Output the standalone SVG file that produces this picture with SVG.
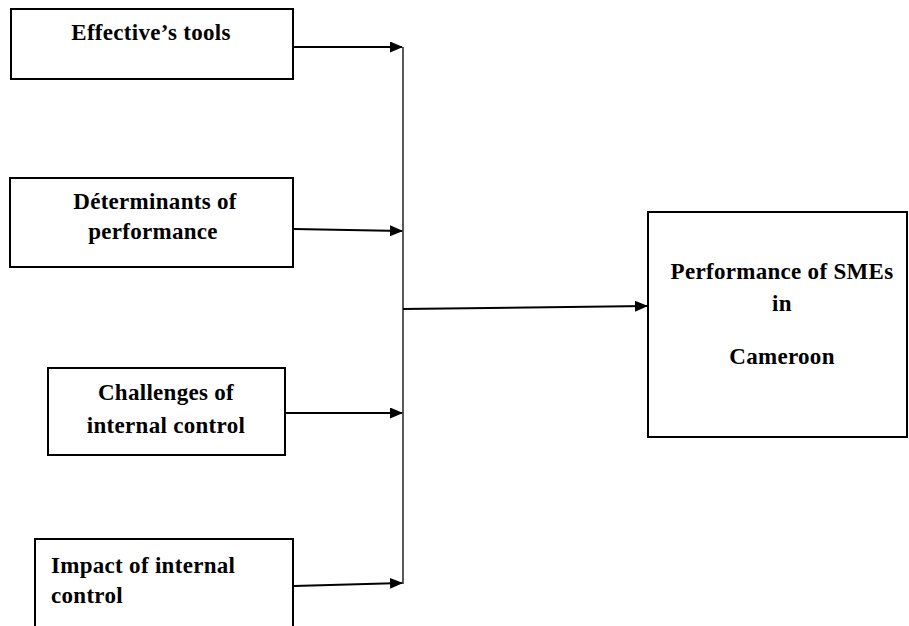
<svg xmlns="http://www.w3.org/2000/svg" width="909" height="626" viewBox="0 0 909 626">
<style>
.box{fill:#fff;stroke:#000;stroke-width:2}
.t{font-family:"Liberation Serif","Times New Roman",serif;font-weight:bold;font-size:23px;letter-spacing:0.3px;fill:#000}
.c{text-anchor:middle}
.ln{fill:none;stroke:#000;stroke-width:2}
.v{fill:none;stroke:#000;stroke-width:1.3}
</style>
<defs>
<marker id="ah" markerWidth="13" markerHeight="11" refX="12" refY="5.5" orient="auto" markerUnits="userSpaceOnUse" viewBox="0 0 13 11">
<path d="M0,0 L13,5.5 L0,11 z" fill="#000"/>
</marker>
</defs>
<rect width="909" height="626" fill="#fff"/>
<g id="n1">
<rect class="box" x="11" y="9" width="282" height="70"/>
<text class="t c" x="151" y="40">Effective’s tools</text>
</g>
<g id="n2">
<rect class="box" x="10" y="178" width="283" height="89"/>
<text class="t c" x="155" y="209">Déterminants of</text>
<text class="t c" x="153" y="239">performance</text>
</g>
<g id="n3">
<rect class="box" x="48" y="368" width="237" height="87"/>
<text class="t c" x="166" y="400">Challenges of</text>
<text class="t c" x="166" y="433">internal control</text>
</g>
<g id="n4">
<rect class="box" x="35" y="539" width="258" height="100"/>
<text class="t" x="51" y="573">Impact of internal</text>
<text class="t" x="51" y="603">control</text>
</g>
<g id="n5">
<rect class="box" x="648" y="212" width="259" height="225"/>
<text class="t c" x="782" y="279">Performance of SMEs</text>
<text class="t c" x="782" y="311">in</text>
<text class="t c" x="782" y="364">Cameroon</text>
</g>
<g id="connectors">
<line class="v" x1="403" y1="47" x2="403" y2="584"/>
<line class="ln" x1="294" y1="47" x2="402" y2="47" marker-end="url(#ah)"/>
<line class="ln" x1="294" y1="229" x2="402" y2="231" marker-end="url(#ah)"/>
<line class="ln" x1="286" y1="413" x2="402" y2="413" marker-end="url(#ah)"/>
<line class="ln" x1="294" y1="586" x2="402" y2="583" marker-end="url(#ah)"/>
<line class="ln" x1="403" y1="309" x2="647" y2="306" marker-end="url(#ah)"/>
</g>
</svg>
